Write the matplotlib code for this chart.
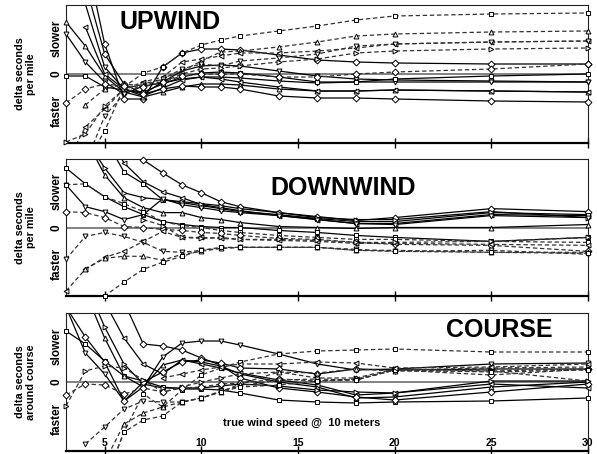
import numpy as np
import matplotlib
matplotlib.use('Agg')
import matplotlib.pyplot as plt

plt.rcParams['font.family'] = ['Liberation Sans', 'DejaVu Sans']
plt.rcParams['font.weight'] = 'bold'

nan = np.nan

# true wind speed (knots) used for every series
wind = [3, 4, 5, 6, 7, 8, 9, 10, 11, 12, 14, 16, 18, 20, 25, 30]

# ---- UPWIND : (marker, solid?, values) ----
up_markers = ['D', 'v', '^', 'v', 's', '<', 'D', 's', '^', '<', 'v', '>', 'D']
up_solid = [True, True, True, True, True, True, True, False, False, False, False, False, False]
up_values = [
    [nan, 12, 3.0, -2.5, -2.5, 0.7, 2.1, 2.5, 2.5, 2.4, 1.9, 1.4, 1.2, 1.1, 1.0, 1.0],
    [nan, 7.0, 0.7, -1.5, -2.0, -0.8, 0.3, 0.8, 0.9, 0.8, 0.3, -0.2, -0.5, -0.6, -0.7, -0.8],
    [5.2, 2.8, -0.2, -1.8, -2.3, -1.8, -1.3, -1.0, -1.0, -1.1, -1.5, -1.7, -1.7, -1.6, -1.7, -1.8],
    [4.0, 1.2, -0.8, -2.0, -1.2, -0.9, -0.5, -0.3, -0.3, -0.4, -0.7, -0.9, -0.8, -0.8, -0.8, -0.8],
    [-0.2, -0.2, -1.3, -1.6, -1.8, -1.0, -0.3, 0.1, 0.2, 0.1, -0.3, -0.8, -0.8, -0.5, -0.2, 0.0],
    [nan, 4.7, 0.0, -1.5, -2.2, -1.4, -0.6, -0.3, -0.5, -0.8, -1.3, -1.7, -1.7, -1.6, -1.7, -1.8],
    [nan, 9, 2.0, -1.0, -2.0, -1.5, -1.2, -1.3, -1.3, -1.5, -2.2, -2.4, -2.4, -2.5, -2.7, -2.8],
    [nan, -9, -5.7, -1.3, 0.1, 0.7, 2.1, 2.9, 3.4, 3.8, 4.3, 4.8, 5.4, 5.8, 6.0, 6.1],
    [nan, -3.1, -1.5, -1.0, -1.2, -0.5, 0.3, 1.3, 2.2, 2.3, 2.7, 3.2, 3.8, 4.0, 4.2, 4.3],
    [-9, -5.3, -3.5, -1.5, -0.8, -0.3, 1.2, 1.5, 1.8, 2.1, 2.1, 2.3, 2.6, 3.0, 3.2, 3.3],
    [nan, -9, -4.2, -2.0, -1.0, -0.5, 0.5, 1.0, 0.8, 1.3, 1.6, 2.0, 2.8, 3.0, 3.2, 3.3],
    [-6.8, -6.0, -3.2, -1.5, -1.0, -0.8, 0.0, 0.5, 0.6, 0.8, 1.2, 1.5, 2.1, 2.3, 2.5, 2.6],
    [-2.9, -1.5, -1.0, -1.2, -1.3, -0.8, -0.2, 0.0, 0.0, 0.0, -0.3, -0.3, 0.0, 0.2, 0.5, 1.0],
]

# ---- DOWNWIND ----
down_markers = ['D', '<', 's', '^', '>', 's', 'v', 's', 'D', 'v', '<', '^', 's', '>']
down_solid = [True, True, True, True, True, True, True, False, False, False, False, False, False, False]
down_values = [
    [nan, nan, nan, 10, 6.8, 5.5, 4.3, 3.5, 2.6, 2.1, 1.5, 1.1, 0.7, 1.0, 1.9, 1.6],
    [nan, nan, 10, 6.5, 4.6, 3.6, 3.0, 2.3, 2.0, 1.7, 1.2, 0.8, 0.4, 0.4, 1.3, 1.2],
    [nan, nan, 9, 5.6, 4.4, 2.8, 2.5, 2.2, 1.9, 1.6, 1.3, 0.9, 0.6, 0.6, 1.5, 1.3],
    [nan, 9, 5.3, 3.0, 2.0, 1.5, 1.5, 1.0, 0.8, 0.5, 0.1, 0.0, -0.1, 0.0, 0.0, 0.3],
    [nan, 9, 6.0, 3.5, 3.0, 2.8, 2.6, 2.4, 2.2, 1.9, 1.5, 1.0, 0.8, 0.8, 1.6, 1.0],
    [6.0, 4.4, 3.1, 2.1, 1.3, 0.6, 0.3, 0.1, 0.0, 0.0, -0.3, -0.5, -0.8, -1.0, -1.4, -1.0],
    [4.3, 2.1, 1.6, 0.8, 1.3, 2.9, 2.3, 2.0, 1.7, 1.5, 1.2, 0.8, 0.4, 0.3, 1.2, 1.0],
    [4.3, 4.4, 3.1, 2.4, 1.6, 0.6, 0.2, 0.0, -0.3, -0.5, -0.8, -1.0, -1.2, -1.2, -1.4, -1.5],
    [1.6, 1.5, 1.0, 0.1, 0.0, -0.2, -0.3, -0.5, -0.6, -0.8, -1.1, -1.2, -1.5, -1.7, -1.8, -2.4],
    [-3.2, -0.9, -0.5, -0.9, -1.5, -2.4, -2.5, -2.3, -2.1, -2.0, -2.0, -2.0, -2.2, -2.4, -2.3, -2.7],
    [-6.4, -4.2, -3.0, -2.4, -1.4, -0.4, -1.0, -1.0, -1.1, -1.2, -1.3, -1.4, -1.6, -1.6, -1.7, -1.8],
    [nan, -4.2, -3.1, -2.9, -2.9, -3.3, -2.7, -2.4, -2.1, -2.0, -2.0, -2.0, -2.3, -2.3, -2.5, -2.5],
    [nan, -10, -6.9, -5.5, -4.2, -3.5, -2.9, -2.3, -2.0, -2.0, -2.0, -2.0, -2.3, -2.4, -2.5, -2.6],
    [nan, nan, nan, nan, 0.8, 0.2, -1.0, -1.1, -1.0, -1.2, -1.2, -1.3, -1.5, -1.5, -1.4, -1.0],
]

# ---- COURSE ----
course_markers = ['s', 'v', '^', '<', 'D', '>', 'D', 's', '>', 'D', 'v', '^', 's', '<']
course_solid = [True, True, True, True, True, True, True, False, False, False, False, False, False, False]
course_values = [
    [5.1, 3.8, 2.1, 0.6, 0.1, -0.5, -0.7, -0.7, -0.8, -1.1, -1.8, -2.0, -2.1, -2.0, -1.9, -1.6],
    [7.5, 2.9, 0.8, -1.9, -0.5, 2.5, 3.9, 4.1, 4.1, 3.7, 2.8, 1.8, 1.2, 1.3, 1.8, 1.9],
    [nan, 9, 4.4, 0.6, -0.5, 1.7, 2.2, 2.0, 1.6, 0.8, 0.0, -0.5, -1.6, -1.5, -0.5, 0.0],
    [nan, 11, 8, 4.4, 1.8, 0.8, 2.2, 1.8, 1.4, 0.9, 0.2, -0.3, -1.3, -1.1, -0.2, -0.6],
    [nan, nan, 13, 8, 3.8, 3.6, 3.2, 2.4, 1.7, 0.4, -0.6, -1.0, -1.5, -1.8, -1.0, -0.2],
    [nan, 10, 5.5, 1.8, -0.2, -0.6, -0.6, -0.6, -0.4, -0.2, -0.4, -0.8, -1.0, -1.1, 0.1, 0.1],
    [7.5, 4.5, 2.0, -1.9, 0.0, 1.0, 2.0, 2.2, 1.9, 1.4, 1.3, 0.8, 1.3, 1.2, 1.3, 1.3],
    [nan, nan, -10, -5, -1.2, -2.5, -0.8, 0.7, 1.4, 2.0, 2.8, 3.1, 3.2, 3.3, 3.0, 3.0],
    [-2.4, 1.1, 1.6, 1.4, 0.2, -1.0, -0.5, 0.0, 0.4, 0.8, 1.0, 0.4, 0.4, 1.3, 1.1, 0.1],
    [-1.3, -0.2, -0.3, -1.2, -0.6, -1.0, -0.6, -0.5, -0.2, -0.1, 0.3, 0.1, 0.3, 1.2, 0.7, 1.3],
    [nan, -6.2, -4.5, -2.7, -1.9, -2.0, -2.0, -1.6, -0.9, -0.4, 0.2, 0.3, 0.2, 1.2, 1.4, 1.5],
    [nan, nan, -8, -4.2, -3.1, -2.5, -2.0, -1.6, -1.0, -0.2, 1.0, 0.9, 1.3, 1.1, 1.1, 1.3],
    [nan, nan, -10, -5.0, -3.8, -3.4, -2.0, -1.6, -1.0, -0.5, -0.3, 0.1, 0.2, 1.2, 1.0, 1.2],
    [nan, nan, nan, nan, nan, 0.4, 0.8, 1.2, 1.5, 1.8, 1.8, 2.0, 1.9, 1.4, 1.5, 1.8],
]

xticks = [5, 10, 15, 20, 25, 30]
YLIM = (-6.9, 6.9)


def draw_panel(ax, markers, solid, values):
    x = np.array(wind, dtype=float)
    ax.axhline(0, color='#777777', lw=1.3, zorder=1)
    for m, s, v in zip(markers, solid, values):
        y = np.array(v, dtype=float)
        if s:
            ax.plot(x, y, '-', color='black', lw=0.9, zorder=2)
        else:
            ax.plot(x, y, '--', color='#333333', lw=0.9, dashes=(3.5, 2.2), zorder=2)
        ok = (y >= YLIM[0]) & (y <= YLIM[1])
        ax.plot(x[ok], y[ok], ls='none', marker=m, ms=3.5, mfc='white',
                mec='black', mew=0.7, zorder=3, clip_on=False)
    ax.set_xlim(3, 30)
    ax.set_ylim(*YLIM)
    ax.set_yticks([])
    ax.set_xticks(xticks)
    ax.tick_params(axis='x', direction='inout', length=7, width=1, labelbottom=False)
    for sp in ax.spines.values():
        sp.set_linewidth(0.8)
        sp.set_color('#222222')
    ax.spines['bottom'].set_linewidth(1.6)
    ax.spines['bottom'].set_color('black')
    # slower / 0 / faster
    tr = ax.get_yaxis_transform()
    ax.text(-0.018, 3.6, 'slower', transform=tr, rotation=90, ha='center', va='center', fontsize=8.5)
    ax.text(-0.018, 0, '0', transform=tr, rotation=90, ha='center', va='center', fontsize=8.5)
    ax.text(-0.018, -3.7, 'faster', transform=tr, rotation=90, ha='center', va='center', fontsize=8.5)


fig = plt.figure(figsize=(5.97, 4.54), dpi=100)
left, width = 66 / 597, 522 / 597
ax1 = fig.add_axes([left, 1 - 143 / 454, width, 138 / 454])
ax2 = fig.add_axes([left, 1 - 296 / 454, width, 137 / 454])
ax3 = fig.add_axes([left, 1 - 451 / 454, width, 138 / 454])

draw_panel(ax1, up_markers, up_solid, up_values)
draw_panel(ax2, down_markers, down_solid, down_values)
draw_panel(ax3, course_markers, course_solid, course_values)

ax1.text(0.199, 0.877, 'UPWIND', transform=ax1.transAxes, ha='center', va='center', fontsize=18)
ax2.text(0.531, 0.788, 'DOWNWIND', transform=ax2.transAxes, ha='center', va='center', fontsize=18)
ax3.text(0.831, 0.877, 'COURSE', transform=ax3.transAxes, ha='center', va='center', fontsize=18)

for ax, lab in [(ax1, 'delta seconds\nper mile'), (ax2, 'delta seconds\nper mile'),
                (ax3, 'delta seconds\naround course')]:
    ax.text(-0.078, 0.5, lab, transform=ax.transAxes, rotation=90, ha='center',
            va='center', fontsize=7.8, linespacing=1.1)

ax3.tick_params(axis='x', labelbottom=True, pad=-13, labelsize=7.5)
ax3.text(15.2, -4.1, 'true wind speed @  10 meters', ha='center', va='center', fontsize=8)

fig.savefig('out.png', dpi=100)
